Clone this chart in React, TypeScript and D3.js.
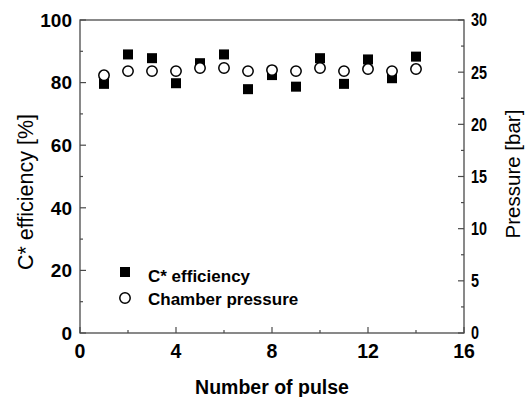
import { useEffect, useRef } from "react";
import * as d3 from "d3";

const W = 526;
const H = 397;
const MARGIN = { top: 20, right: 62, bottom: 64, left: 80 };

// pulse number, C* efficiency (%) and chamber pressure (bar)
const pulses = [1, 2, 3, 4, 5, 6, 7, 8, 9, 10, 11, 12, 13, 14];
const efficiency = [79.6, 89.0, 87.8, 79.8, 86.2, 89.0, 77.9, 82.4, 78.7, 87.8, 79.6, 87.4, 81.4, 88.3];
const pressure = [24.7, 25.1, 25.1, 25.1, 25.4, 25.4, 25.1, 25.2, 25.1, 25.4, 25.1, 25.3, 25.1, 25.3];

const xTicks = [0, 4, 8, 12, 16];
const xMinor = [2, 6, 10, 14];
const yLeftTicks = [0, 20, 40, 60, 80, 100];
const yLeftMinor = [10, 30, 50, 70, 90];
const yRightTicks = [0, 5, 10, 15, 20, 25, 30];
const yRightMinor = [2.5, 7.5, 12.5, 17.5, 22.5, 27.5];

const FONT = "Arial, 'Liberation Sans', sans-serif";
const AXIS = "#4a4a4a";

export default function App() {
  const svgRef = useRef<SVGSVGElement>(null);

  useEffect(() => {
    const svgEl = svgRef.current;
    if (!svgEl) return;
    const svg = d3.select(svgEl);
    svg.selectAll("*").remove();

    const x0 = MARGIN.left;
    const x1 = W - MARGIN.right;
    const y0 = H - MARGIN.bottom;
    const y1 = MARGIN.top;

    const x = d3.scaleLinear().domain([0, 16]).range([x0, x1]);
    const yL = d3.scaleLinear().domain([0, 100]).range([y0, y1]);
    const yR = d3.scaleLinear().domain([0, 30]).range([y0, y1]);

    // frame
    svg
      .append("rect")
      .attr("x", x0)
      .attr("y", y1)
      .attr("width", x1 - x0)
      .attr("height", y0 - y1)
      .attr("fill", "none")
      .attr("stroke", AXIS)
      .attr("stroke-width", 1.3);

    const tick = (xa: number, ya: number, xb: number, yb: number) =>
      svg
        .append("line")
        .attr("x1", xa)
        .attr("y1", ya)
        .attr("x2", xb)
        .attr("y2", yb)
        .attr("stroke", AXIS)
        .attr("stroke-width", 1.2);

    // ticks all point inward
    xTicks.forEach((d) => tick(x(d), y0, x(d), y0 - 6));
    xMinor.forEach((d) => tick(x(d), y0, x(d), y0 - 3));
    yLeftTicks.forEach((d) => tick(x0, yL(d), x0 + 6, yL(d)));
    yLeftMinor.forEach((d) => tick(x0, yL(d), x0 + 3, yL(d)));
    yRightTicks.forEach((d) => tick(x1, yR(d), x1 - 6, yR(d)));
    yRightMinor.forEach((d) => tick(x1, yR(d), x1 - 3, yR(d)));

    // x tick labels
    svg
      .append("g")
      .selectAll("text")
      .data(xTicks)
      .enter()
      .append("text")
      .attr("x", (d) => x(d))
      .attr("y", y0 + 25)
      .attr("text-anchor", "middle")
      .attr("font-family", FONT)
      .attr("font-weight", "bold")
      .attr("font-size", 19.5)
      .text((d) => d);

    // left tick labels
    svg
      .append("g")
      .selectAll("text")
      .data(yLeftTicks)
      .enter()
      .append("text")
      .attr("x", x0 - 8)
      .attr("y", (d) => yL(d))
      .attr("dy", "0.36em")
      .attr("text-anchor", "end")
      .attr("font-family", FONT)
      .attr("font-weight", "bold")
      .attr("font-size", 19)
      .text((d) => d);

    // right tick labels (narrower face in the original)
    svg
      .append("g")
      .selectAll("text")
      .data(yRightTicks)
      .enter()
      .append("text")
      .attr("transform", (d) => `translate(${x1 + 7},${yR(d)}) scale(0.8,1)`)
      .attr("dy", "0.36em")
      .attr("font-family", FONT)
      .attr("font-weight", "bold")
      .attr("font-size", 18)
      .text((d) => d);

    // axis titles
    svg
      .append("text")
      .attr("x", (x0 + x1) / 2)
      .attr("y", 394)
      .attr("text-anchor", "middle")
      .attr("font-family", FONT)
      .attr("font-weight", "bold")
      .attr("font-size", 19.5)
      .text("Number of pulse");

    svg
      .append("text")
      .attr("transform", `translate(33, 192) rotate(-90)`)
      .attr("text-anchor", "middle")
      .attr("font-family", FONT)
      .attr("font-size", 21.5)
      .text("C* efficiency [%]");

    svg
      .append("text")
      .attr("transform", `translate(520, 174) rotate(-90)`)
      .attr("text-anchor", "middle")
      .attr("font-family", FONT)
      .attr("font-size", 20.5)
      .text("Pressure [bar]");

    // efficiency squares
    const S = 10;
    svg
      .append("g")
      .selectAll("rect")
      .data(pulses)
      .enter()
      .append("rect")
      .attr("x", (d) => x(d) - S / 2)
      .attr("y", (_, i) => yL(efficiency[i]) - S / 2)
      .attr("width", S)
      .attr("height", S)
      .attr("fill", "#000");

    // pressure circles on top
    svg
      .append("g")
      .selectAll("circle")
      .data(pulses)
      .enter()
      .append("circle")
      .attr("cx", (d) => x(d))
      .attr("cy", (_, i) => yR(pressure[i]))
      .attr("r", 5.2)
      .attr("fill", "#fff")
      .attr("stroke", "#000")
      .attr("stroke-width", 1.5);

    // legend
    const lg = svg.append("g").attr("transform", "translate(125, 0)");
    lg.append("rect")
      .attr("x", -S / 2)
      .attr("y", 272 - S / 2)
      .attr("width", S)
      .attr("height", S)
      .attr("fill", "#000");
    lg.append("circle")
      .attr("cx", 0)
      .attr("cy", 298)
      .attr("r", 5.2)
      .attr("fill", "#fff")
      .attr("stroke", "#000")
      .attr("stroke-width", 1.5);
    lg.append("text")
      .attr("x", 23)
      .attr("y", 282)
      .attr("font-family", FONT)
      .attr("font-weight", "bold")
      .attr("font-size", 17)
      .text("C* efficiency");
    lg.append("text")
      .attr("x", 23)
      .attr("y", 305)
      .attr("font-family", FONT)
      .attr("font-weight", "bold")
      .attr("font-size", 17)
      .text("Chamber pressure");
  }, []);

  return (
    <svg
      ref={svgRef}
      width={W}
      height={H}
      style={{ position: "absolute", left: 0, top: 0, background: "#fff" }}
    />
  );
}
